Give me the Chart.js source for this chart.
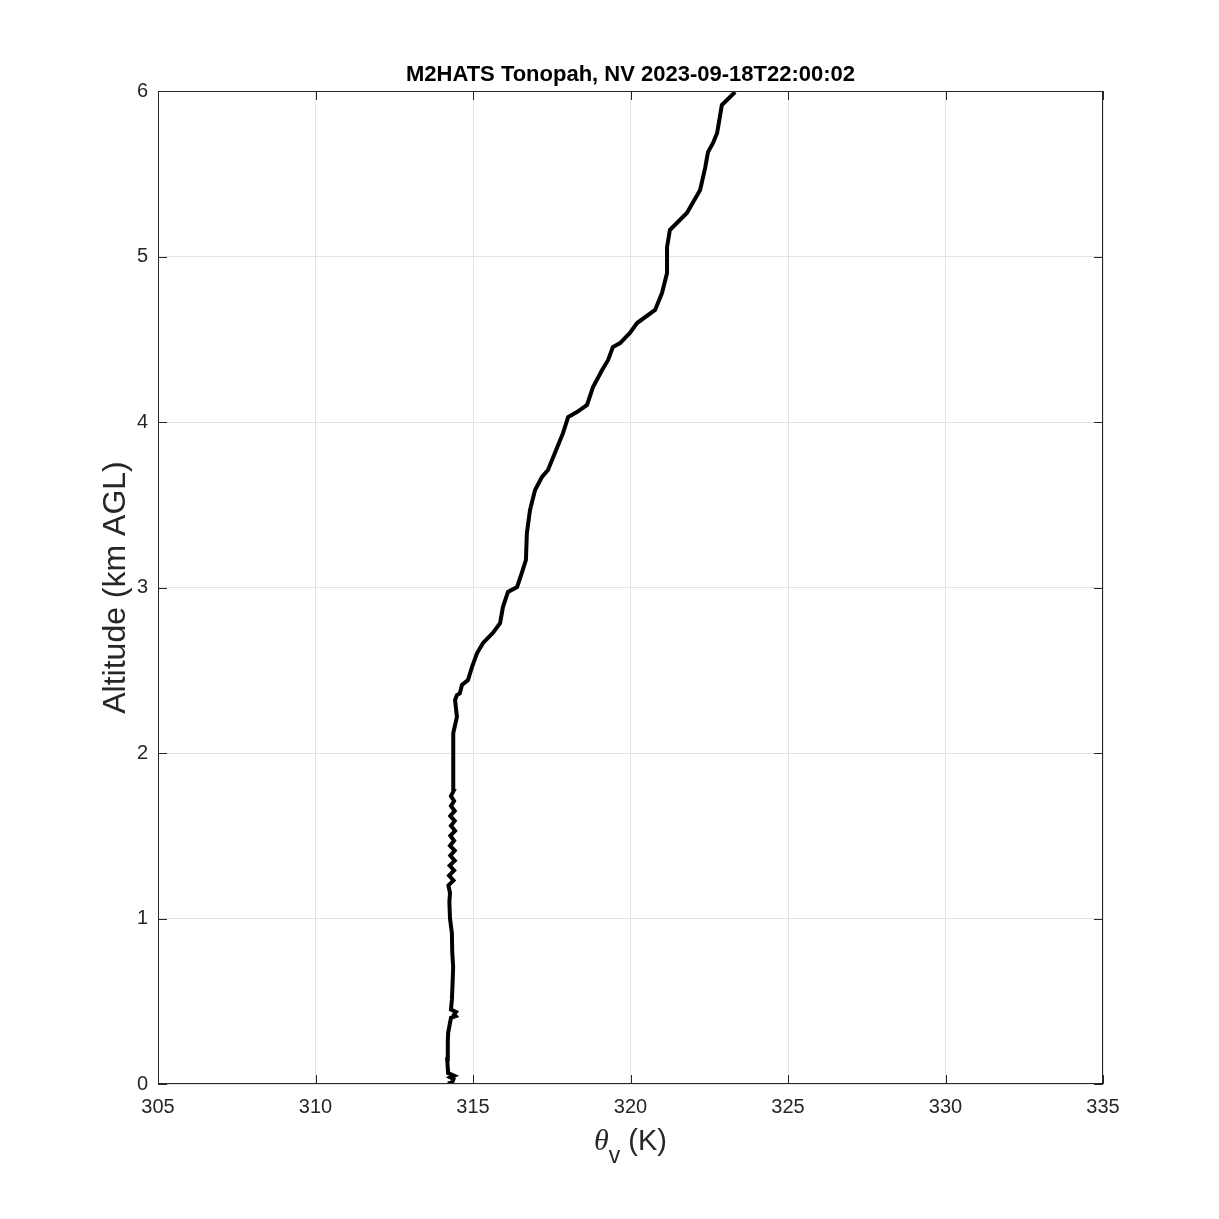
<!DOCTYPE html>
<html>
<head>
<meta charset="utf-8">
<script src="https://cdn.jsdelivr.net/npm/chart.js@4/dist/chart.umd.min.js"></script>
<style>
  html, body { margin: 0; padding: 0; background: #fff; }
  #wrap { width: 1219px; height: 1219px; }
</style>
</head>
<body>
<div id="wrap"><canvas id="chart" width="1219" height="1219"></canvas></div>
<script>
// virtual potential temperature (K) vs altitude (km AGL)
const altitude = [
  0.004, 0.010, 0.030, 0.040, 0.050, 0.066, 0.15, 0.25, 0.308, 0.40, 0.410, 0.420, 0.435, 0.45, 0.508,
  0.60, 0.707, 0.80, 0.912, 1.00, 1.10, 1.154, 1.20, 1.23, 1.26, 1.29, 1.32, 1.35,
  1.38, 1.41, 1.44, 1.47, 1.50, 1.53, 1.56, 1.59, 1.62, 1.65, 1.68, 1.71, 1.74, 1.77,
  1.819, 1.95, 2.121, 2.218, 2.320, 2.350, 2.360, 2.411, 2.441, 2.520, 2.604, 2.665,
  2.725, 2.785, 2.882, 2.973, 3.003, 3.094, 3.166, 3.329, 3.468, 3.589, 3.668, 3.710,
  3.813, 3.934, 4.030, 4.060, 4.103, 4.211, 4.314, 4.375, 4.453, 4.477, 4.538, 4.598,
  4.677, 4.779, 4.900, 5.057, 5.160, 5.263, 5.402, 5.535, 5.631, 5.686, 5.746, 5.915,
  5.994
]
const thetaV = [
  314.20, 314.34, 314.38, 314.28, 314.40, 314.21, 314.18, 314.20, 314.21, 314.30, 314.45, 314.40, 314.46, 314.30, 314.33,
  314.35, 314.37, 314.34, 314.33, 314.27, 314.25, 314.27, 314.22, 314.38, 314.24, 314.40, 314.26, 314.42,
  314.28, 314.42, 314.27, 314.40, 314.28, 314.43, 314.30, 314.42, 314.28, 314.42, 314.30, 314.40, 314.30, 314.38,
  314.37, 314.38, 314.37, 314.49, 314.43, 314.49, 314.58, 314.65, 314.84, 314.97, 315.13, 315.32,
  315.63, 315.86, 315.95, 316.11, 316.40, 316.56, 316.68, 316.71, 316.81, 316.97, 317.19, 317.38,
  317.60, 317.86, 318.02, 318.30, 318.62, 318.81, 319.10, 319.29, 319.44, 319.67, 319.98, 320.21,
  320.78, 321.00, 321.16, 321.16, 321.25, 321.79, 322.21, 322.37, 322.46, 322.62, 322.75, 322.90,
  323.32
]
const xTicks = [305, 310, 315, 320, 325, 330, 335]
const yTicks = [0, 1, 2, 3, 4, 5, 6]
const titleText = "M2HATS Tonopah, NV 2023-09-18T22:00:02"
const yLabel = "Altitude (km AGL)"

const points = altitude.map((a, i) => ({ x: thetaV[i], y: a }))

const fontFamily = "'Liberation Sans', Arial, Helvetica, sans-serif"
const tickColor = "#262626"

// box, inward ticks, title and axis labels, MATLAB style
const framePlugin = {
  id: "frame",
  afterDraw(chart) {
    const { ctx, chartArea: a, scales } = chart
    const len = 9
    ctx.save()
    ctx.strokeStyle = "#262626"
    ctx.lineWidth = 1
    ctx.strokeRect(a.left + 0.5, a.top + 0.5, a.right - a.left - 1, a.bottom - a.top - 1)
    ctx.beginPath()
    xTicks.forEach(v => {
      const px = Math.round(scales.x.getPixelForValue(v)) + 0.5
      ctx.moveTo(px, a.bottom); ctx.lineTo(px, a.bottom - len)
      ctx.moveTo(px, a.top); ctx.lineTo(px, a.top + len)
    })
    yTicks.forEach(v => {
      const py = Math.round(scales.y.getPixelForValue(v)) + 0.5
      ctx.moveTo(a.left, py); ctx.lineTo(a.left + len, py)
      ctx.moveTo(a.right, py); ctx.lineTo(a.right - len, py)
    })
    ctx.stroke()

    const cx = (a.left + a.right) / 2
    ctx.fillStyle = "#000"
    ctx.font = "bold 22px " + fontFamily
    ctx.textAlign = "center"
    ctx.textBaseline = "alphabetic"
    ctx.fillText(titleText, cx, 81)

    ctx.fillStyle = tickColor
    ctx.font = "32px " + fontFamily
    ctx.save()
    ctx.translate(116, (a.top + a.bottom) / 2)
    ctx.rotate(-Math.PI / 2)
    ctx.textBaseline = "middle"
    ctx.fillText(yLabel, 0, 0)
    ctx.restore()

    // x label: theta with subscript v, then (K)
    ctx.textAlign = "left"
    ctx.textBaseline = "alphabetic"
    const thetaFont = "italic 30px 'Liberation Serif', 'Times New Roman', serif"
    const subFont = "23px " + fontFamily
    const mainFont = "29px " + fontFamily
    ctx.font = thetaFont
    const wT = ctx.measureText("θ").width
    ctx.font = subFont
    const wS = ctx.measureText("v").width
    ctx.font = mainFont
    const wM = ctx.measureText(" (K)").width
    let x0 = cx - (wT + wS + wM) / 2
    const base = 1150
    ctx.font = thetaFont
    ctx.fillText("θ", x0, base)
    x0 += wT
    ctx.font = subFont
    ctx.fillText("v", x0, base + 13)
    x0 += wS
    ctx.font = mainFont
    ctx.fillText(" (K)", x0, base)
    ctx.restore()
  }
}

new Chart(document.getElementById("chart"), {
  type: "scatter",
  data: {
    datasets: [{
      data: points,
      showLine: true,
      borderColor: "#000",
      borderWidth: 4,
      pointRadius: 0,
      tension: 0
    }]
  },
  options: {
    responsive: false,
    animation: false,
    layout: { padding: { top: 91, right: 116, left: 0, bottom: 0 } },
    plugins: {
      legend: { display: false },
      tooltip: { enabled: false }
    },
    scales: {
      x: {
        type: "linear",
        min: 305,
        max: 335,
        afterBuildTicks: (axis) => { axis.ticks = xTicks.map(v => ({ value: v })) },
        afterFit: (axis) => { axis.height = 135 },
        grid: { color: "#e3e3e3", drawTicks: false },
        border: { display: false },
        ticks: { color: tickColor, padding: 11, font: { size: 20, family: fontFamily } }
      },
      y: {
        type: "linear",
        min: 0,
        max: 6,
        afterBuildTicks: (axis) => { axis.ticks = yTicks.map(v => ({ value: v })) },
        afterFit: (axis) => { axis.width = 158 },
        grid: { color: "#e3e3e3", drawTicks: false },
        border: { display: false },
        ticks: { color: tickColor, padding: 10, font: { size: 20, family: fontFamily } }
      }
    }
  },
  plugins: [framePlugin]
})
</script>
</body>
</html>
